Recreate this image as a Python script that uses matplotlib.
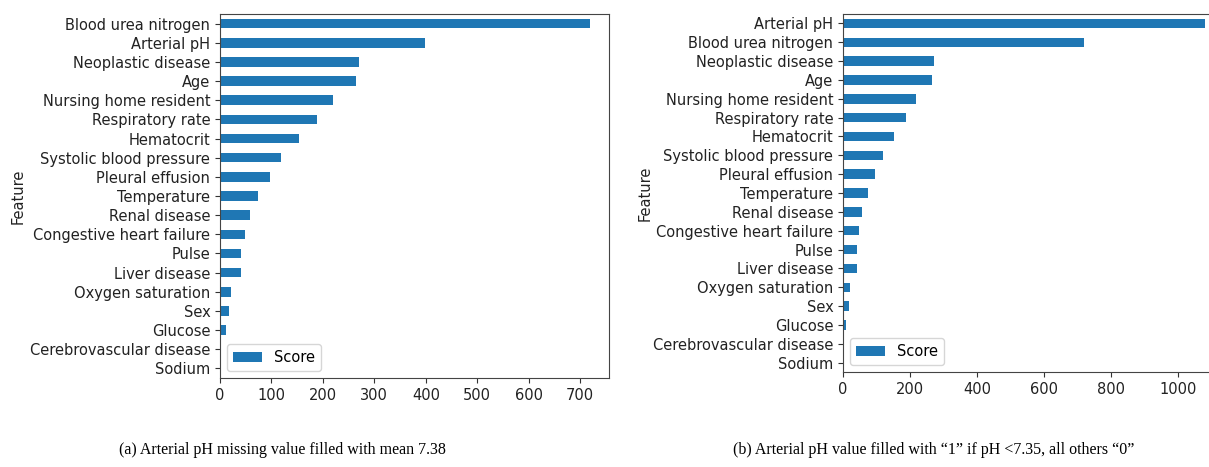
import numpy as np
import matplotlib.pyplot as plt

# feature order (top to bottom) and scores for the two imputation variants
features_a = ['Blood urea nitrogen', 'Arterial pH', 'Neoplastic disease', 'Age',
              'Nursing home resident', 'Respiratory rate', 'Hematocrit',
              'Systolic blood pressure', 'Pleural effusion', 'Temperature',
              'Renal disease', 'Congestive heart failure', 'Pulse', 'Liver disease',
              'Oxygen saturation', 'Sex', 'Glucose', 'Cerebrovascular disease', 'Sodium']
scores_a = [720, 398, 271, 265, 220, 189, 153, 118, 98, 73, 58, 49, 41, 41, 22, 18, 12, 1, 0.5]

features_b = ['Arterial pH', 'Blood urea nitrogen', 'Neoplastic disease', 'Age',
              'Nursing home resident', 'Respiratory rate', 'Hematocrit',
              'Systolic blood pressure', 'Pleural effusion', 'Temperature',
              'Renal disease', 'Congestive heart failure', 'Pulse', 'Liver disease',
              'Oxygen saturation', 'Sex', 'Glucose', 'Cerebrovascular disease', 'Sodium']
scores_b = [1081, 720, 271, 265, 218, 188, 153, 119, 97, 74, 57, 48, 41, 41, 21, 17, 10, 1, 0.5]

caption_a = '(a) Arterial pH missing value filled with mean 7.38'
caption_b = '(b) Arterial pH value filled with \u201c1\u201d if pH <7.35, all others \u201c0\u201d'

W, H = 1209, 467
fig = plt.figure(figsize=(W/100, H/100), dpi=100)

def px(l, t, r, b):
    return [l/W, (H-b)/H, (r-l)/W, (b-t)/H]

ax1 = fig.add_axes(px(220, 14, 609, 378))
ax2 = fig.add_axes(px(843, 14, 1223, 372))

def draw(ax, feats, vals, lab_x):
    y = np.arange(len(feats))[::-1]
    ax.barh(y, vals, height=0.5, color='#1f77b4', label='Score')
    ax.set_yticks(y)
    ax.set_yticklabels(feats)
    ax.set_ylim(-0.5, len(feats) - 0.5)
    ax.set_xlim(0, max(vals)*1.05)
    ax.set_ylabel('Feature', fontsize=10.5, color='#222222')
    ax.yaxis.set_label_coords(lab_x, 0.5)
    ax.tick_params(labelsize=10.5, labelcolor='#222222', color='#333333')
    for s in ax.spines.values():
        s.set_color('#444444')
    ax.legend(loc='lower left', fontsize=10.5)

draw(ax1, features_a, scores_a, -0.50)
draw(ax2, features_b, scores_b, -0.50)

fig.text(282/W, 1 - 450/H, caption_a, ha='center', va='center',
         family='Liberation Serif', fontsize=11.5)
fig.text(934/W, 1 - 450/H, caption_b, ha='center', va='center',
         family='Liberation Serif', fontsize=11.5)

fig.savefig('out.png', dpi=100)
